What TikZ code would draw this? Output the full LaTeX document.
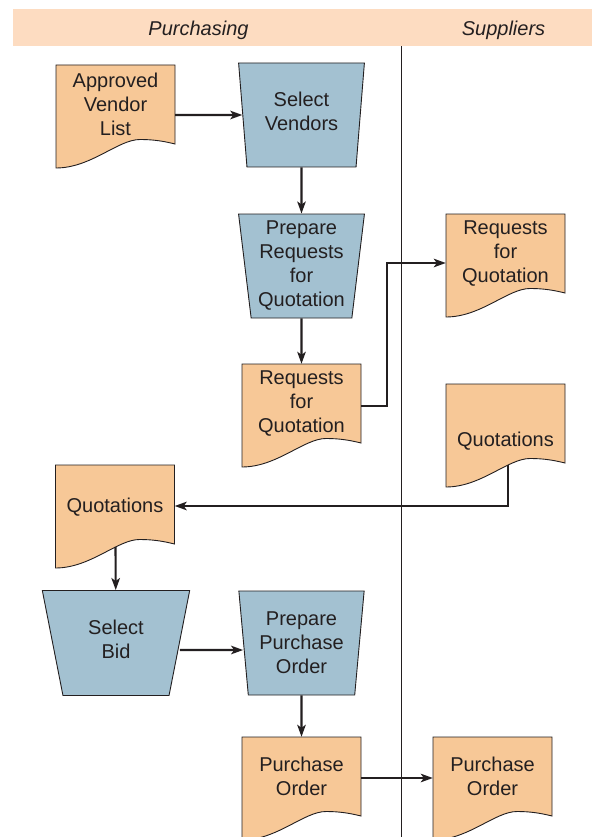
\documentclass[tikz,border=0pt]{standalone}
\usepackage{fontspec}
\setmainfont{Liberation Sans}
\usetikzlibrary{arrows.meta,shapes.geometric}

\definecolor{ink}{HTML}{231F20}
\definecolor{docfill}{HTML}{F7C897}
\definecolor{procfill}{HTML}{A3C1D1}
\definecolor{bandfill}{HTML}{FDDCC1}

% Outline of a document symbol; #1,#2 = centre of its rectangular part
\newcommand\docoutline[2]{%
  \filldraw[docshape] ({#1-59.5},{#2-39.5}) -- ({#1+59.5},{#2-39.5}) -- ({#1+59.5},{#2+39.5})
    .. controls ({#1+47.5},{#2+36.5}) and ({#1+37.5},{#2+35}) .. ({#1+24.5},{#2+35})
    .. controls ({#1+2.5},{#2+35}) and ({#1-24.5},{#2+63.5}) .. ({#1-59.5},{#2+63.5}) -- cycle;}

\tikzset{
  docshape/.style={draw=ink, fill=docfill, line width=0.9pt},
  docnode/.style={rectangle, minimum width=119pt, minimum height=79pt, inner sep=0pt, align=center},
  proc/.style={trapezium, trapezium stretches=true, trapezium left angle=96.9, trapezium right angle=96.9,
    draw=ink, fill=procfill, line width=0.9pt, inner sep=0pt, align=center,
    minimum width=126pt, minimum height=104pt},
  wideproc/.style={proc, trapezium left angle=103.1, trapezium right angle=103.1,
    minimum width=148pt, minimum height=105pt},
  flow/.style={draw=ink, line width=2.1pt, -{Stealth[length=12pt,width=8.5pt,inset=3pt]}},
  divider/.style={draw=ink, line width=0.9pt},
  lanehead/.style={anchor=base, font=\fontsize{20}{24}\selectfont\itshape}
}

\begin{document}
\begin{tikzpicture}[x=1pt, y=-1pt, font=\fontsize{20}{24}\selectfont, text=ink]
\useasboundingbox (0,0) rectangle (592,837);
\clip (0,0) rectangle (592,837);

% lane header band and divider
\fill[bandfill] (12.5,9) rectangle (592,46.5);
\node[lanehead] (lanep) at (198.5,35.5) {Purchasing};
\node[lanehead] (lanes) at (503.5,35.5) {Suppliers};
\draw[divider] (401,46.5) -- (401,837);

% Purchasing lane
\docoutline{115.5}{104.5}
\node[docnode] (avl) at (115.5,104.5) {Approved\\Vendor\\List};
\node[proc, text depth=8pt] (sv) at (301.5,115) {Select\\Vendors};
\node[proc] (prq) at (301.5,266) {Prepare\\Requests\\for\\Quotation};
\docoutline{301.5}{403.5}
\node[docnode] (rfqp) at (301.5,403.5) {Requests\\for\\Quotation};
\docoutline{115}{504.5}
\node[docnode, text height=20pt] (qp) at (115,504.5) {Quotations};
\node[wideproc, text depth=8pt] (sb) at (116,643) {Select\\Bid};
\node[proc] (ppo) at (301.5,643) {Prepare\\Purchase\\Order};
\docoutline{301.5}{776.5}
\node[docnode] (pop) at (301.5,776.5) {Purchase\\Order};

% Suppliers lane
\docoutline{505.5}{253.5}
\node[docnode] (rfqs) at (505.5,253.5) {Requests\\for\\Quotation};
\docoutline{505.5}{423.5}
\node[docnode, label={[yshift=-18pt]center:Quotations}] (qs) at (505.5,423.5) {};
\docoutline{492.5}{776.5}
\node[docnode] (pos) at (492.5,776.5) {Purchase\\Order};

% document flow
\draw[flow] (avl.east |- sv) -- (sv);
\draw[flow] (sv) -- (prq);
\draw[flow] (prq) -- (rfqp);
\draw[flow] ([yshift=-2.5pt]rfqp.east) -- ++(26,0) |- ([yshift=-9.5pt]rfqs.west);
\draw[flow] ([xshift=2.5pt,yshift=-1.5pt]qs.south) |- ([yshift=-1.5pt]qp.east);
\draw[flow] ([xshift=0.5pt,yshift=-2.6pt]qp.south) -- (sb);
\draw[flow] ([yshift=-7pt]sb.east) -- ([yshift=-7pt]ppo.west);
\draw[flow] (ppo) -- (pop);
\draw[flow] ([yshift=-1.5pt]pop.east) -- ([yshift=-1.5pt]pos.west);
\end{tikzpicture}
\end{document}
